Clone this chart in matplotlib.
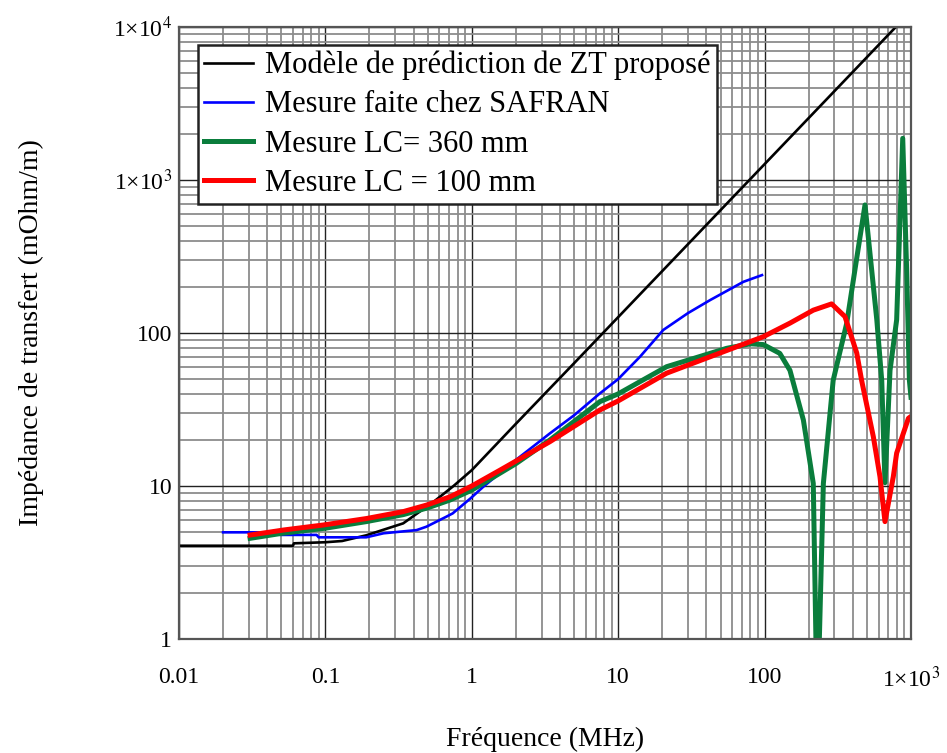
import matplotlib.pyplot as plt

## Fonts: serif, Times-like
plt.rcParams['font.family'] = 'Liberation Serif'
plt.rcParams['mathtext.fontset'] = 'stix'

## Data (frequency in MHz, impedance in mOhm/m)
f_model = [0.01, 0.06, 0.061, 0.1, 0.13, 0.19, 0.34, 0.55, 0.75, 1, 2, 5, 10, 20, 50, 100, 200, 500, 1000]
z_model = [4.07, 4.07, 4.22, 4.29, 4.37, 4.76, 5.7, 7.9, 10, 12.7, 25.5, 63.5, 127, 254, 635, 1270, 2540, 6350, 12700]

f_safran = [0.02, 0.034, 0.05, 0.087, 0.09, 0.19, 0.25, 0.42, 0.49, 0.67, 0.74, 0.98, 1.2, 2.0, 3.4, 5,
            7.5, 10, 14.1, 20.3, 30, 42.4, 71.6, 96]
z_safran = [4.98, 4.98, 4.79, 4.79, 4.62, 4.62, 4.91, 5.15, 5.42, 6.3, 6.62, 8.3, 9.9, 14.8, 22, 29,
            40.3, 50, 70, 104.6, 135, 164, 216, 239]

f_lc360 = [0.0306, 0.05, 0.1, 0.19, 0.34, 0.5, 0.71, 1, 2, 3.42, 7.5, 10, 21.4, 55, 80, 98, 127, 149, 184,
           215, 229, 252, 294, 364, 420, 485, 584, 631, 664, 719, 798, 841, 878, 934, 975, 1000]
z_lc360 = [4.55, 4.9, 5.3, 5.85, 6.5, 7.2, 8.1, 9.4, 14, 20, 35.6, 40, 60.2, 79.4, 85, 84, 73.6, 57, 27,
           10.4, 0.3, 10.4, 49, 116, 283, 687, 122, 49, 10.5, 57, 122, 548, 1872, 258, 49, 38]

f_lc100 = [0.0306, 0.052, 0.0967, 0.191, 0.34, 0.49, 0.71, 1, 1.56, 3.42, 7.5, 10, 21.4, 98, 149, 215,
           287, 354, 426, 460, 553, 614, 664, 757, 798, 960, 1000]
z_lc100 = [4.78, 5.16, 5.56, 6.13, 6.8, 7.5, 8.5, 10, 12.7, 19.5, 31.4, 36, 54.6, 94.6, 116, 141,
           155, 128, 74, 49, 21, 11.5, 5.85, 11.5, 16.4, 27.7, 28.5]

x_ticks = [0.01, 0.1, 1, 10, 100, 1000]
x_labels = ['0.01', '0.1', '1', '10', '100', '1×10$^{3}$']
y_ticks = [1, 10, 100, 1000, 10000]
y_labels = ['1', '10', '100', '1×10$^{3}$', '1×10$^{4}$']

labels = ['Modèle de prédiction de ZT proposé',
          'Mesure faite chez SAFRAN',
          'Mesure LC= 360 mm',
          'Mesure LC = 100 mm']


fig = plt.figure(figsize=(9.47, 7.53), dpi=100)
ax = fig.add_axes([179 / 947, 1 - 639 / 753, 732 / 947, 612 / 753])

ax.plot(f_model, z_model, color='black', lw=1.9, label=labels[0])
ax.plot(f_safran, z_safran, color='#0000ff', lw=1.9, label=labels[1])
ax.plot(f_lc360, z_lc360, color='#0a7d3c', lw=3.6, label=labels[2])
ax.plot(f_lc100, z_lc100, color='#ff0000', lw=3.6, label=labels[3])

ax.set_xscale('log')
ax.set_yscale('log')
ax.set_xlim(0.01, 1000)
ax.set_ylim(1, 10000)

ax.set_xticks(x_ticks)
ax.set_xticklabels(x_labels)
ax.set_yticks(y_ticks)
ax.set_yticklabels(y_labels)
ax.tick_params(which='both', length=0)
ax.tick_params(axis='x', pad=20, labelsize=17)
ax.tick_params(axis='y', pad=5, labelsize=17)

## grid: dark decades, grey sub-divisions
ax.grid(which='major', color='#222222', lw=1.0)
ax.grid(which='minor', color='#8c8c8c', lw=1.3)
ax.set_axisbelow(True)

for s in ax.spines.values():
    s.set_color('#555555')
    s.set_linewidth(1.6)

ax.set_xlabel('Fréquence (MHz)', fontsize=20, labelpad=25)
ax.set_ylabel('Impédance de transfert (mOhm/m)', fontsize=20, labelpad=50)

leg = ax.legend(loc='upper left', bbox_to_anchor=(0.026, 0.971), fontsize=22,
                frameon=True, fancybox=False, framealpha=1, edgecolor='#222222',
                handlelength=1.6, handletextpad=0.4, labelspacing=0.33,
                borderpad=0.2, borderaxespad=0)
leg.get_frame().set_linewidth(1.8)

fig.savefig('out.png', dpi=100)
